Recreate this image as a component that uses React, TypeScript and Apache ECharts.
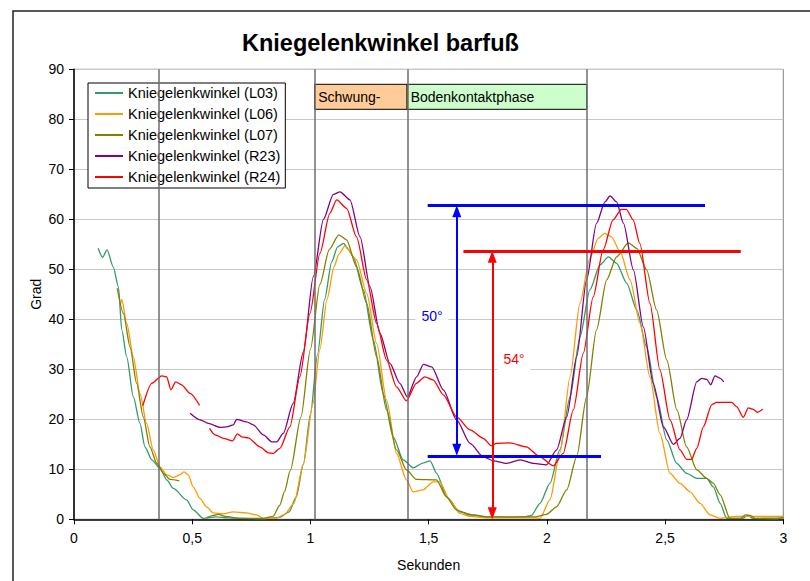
import React, { useEffect, useRef } from "react";
import * as echarts from "echarts";

const FONT = 'Arial, "Liberation Sans", sans-serif';

// Knee angle in degrees over time in seconds; "-" breaks a line where no value was recorded.
const kneeL03 = [
  [0.102, 54.2], [0.121, 52.4], [0.140, 53.9], [0.166, 50.5], [0.188, 46.5], [0.202, 37.9],
  [0.223, 32.5], [0.251, 24.5], [0.279, 19.2], [0.300, 14.5], [0.329, 11.9], [0.364, 10.2],
  [0.392, 7.9], [0.420, 6.2], [0.476, 3.9], [0.504, 1.9], [0.546, 0.2], [0.60, 0.5],
  [0.65, 0.3], [0.72, 0.2], [0.80, 0.1], [0.87, 0.4], [0.91, 1.5], [0.94, 4.5],
  [0.97, 11.0], [1.0, 21.0], [1.03, 33.0], [1.06, 44.0], [1.09, 51.5], [1.115, 54.5],
  [1.14, 55.2], [1.16, 54.0], [1.181, 52.5], [1.224, 45.9], [1.266, 35.9], [1.308, 25.2],
  [1.350, 16.5], [1.392, 11.9], [1.435, 10.3], [1.478, 11.3], [1.506, 11.7], [1.534, 9.2],
  [1.576, 4.5], [1.632, 1.5], [1.688, 0.9], [1.75, 0.5], [1.85, 0.4], [1.905, 0.5],
  [1.935, 0.8], [1.971, 3.2], [2.013, 7.2], [2.055, 13.9], [2.098, 24.5], [2.140, 36.5],
  [2.182, 45.9], [2.225, 50.9], [2.260, 52.5], [2.295, 51.2], [2.338, 47.2], [2.380, 41.9],
  [2.422, 34.5], [2.464, 24.5], [2.507, 15.9], [2.549, 11.2], [2.591, 9.2], [2.634, 8.2],
  [2.676, 8.2], [2.704, 6.5], [2.733, 3.2], [2.760, 0.2], [2.83, 0.2], [2.85, 0.8],
  [2.87, 0.2], [2.97, 0.1], [3.0, 0.4],
];

const kneeL06 = [
  [0.197, 43.0], [0.202, 44.0], [0.223, 39.2], [0.251, 32.5], [0.279, 25.2], [0.307, 19.2],
  [0.335, 13.9], [0.364, 10.5], [0.392, 8.9], [0.420, 8.4], [0.448, 8.9], [0.465, 9.5],
  [0.483, 8.9], [0.504, 6.5], [0.532, 4.2], [0.561, 2.5], [0.589, 1.3], [0.631, 1.1],
  [0.673, 1.5], [0.729, 1.3], [0.772, 0.9], [0.80, 0.2], [0.856, 0.2], [0.89, 1.0],
  [0.93, 3.2], [0.97, 11.0], [1.01, 23.0], [1.04, 34.0], [1.07, 44.0], [1.10, 50.5],
  [1.12, 53.0], [1.146, 54.7], [1.195, 51.9], [1.238, 45.2], [1.280, 35.2], [1.322, 23.9],
  [1.364, 13.2], [1.406, 7.9], [1.434, 5.5], [1.477, 5.9], [1.519, 7.5], [1.547, 7.5],
  [1.589, 3.9], [1.631, 1.2], [1.675, 0.6], [1.75, 0.3], [1.95, 0.3], [1.971, 0.2],
  [2.013, 3.9], [2.055, 13.2], [2.098, 28.5], [2.140, 43.2], [2.182, 52.2], [2.217, 56.2],
  [2.245, 57.2], [2.273, 56.5], [2.310, 53.5], [2.352, 47.9], [2.394, 39.2], [2.436, 28.5],
  [2.478, 17.2], [2.521, 9.2], [2.563, 7.2], [2.606, 5.5], [2.648, 3.2], [2.690, 0.9],
  [2.733, 0.2], [2.76, 0.4], [2.80, 0.6], [3.0, 0.6],
];

const kneeL07 = [
  [0.183, 46.2], [0.209, 41.2], [0.237, 34.5], [0.265, 27.2], [0.293, 20.5], [0.321, 14.5],
  [0.350, 11.2], [0.378, 9.2], [0.406, 8.0], [0.445, 7.7], [0.50, "-"],
  [0.56, 0.3], [0.59, 0.8], [0.61, 1.0], [0.64, 0.6], [0.70, 0.2], [0.80, 0.2],
  [0.842, 0.6], [0.87, 2.8], [0.89, 5.5], [0.915, 9.8], [0.96, 20.5], [1.0, 34.0],
  [1.04, 47.0], [1.08, 54.0], [1.12, 56.9], [1.153, 55.9], [1.195, 50.5], [1.238, 43.2],
  [1.280, 32.5], [1.322, 21.9], [1.364, 13.9], [1.406, 9.9], [1.448, 8.0], [1.533, 7.9],
  [1.575, 4.5], [1.617, 1.9], [1.674, 0.9], [1.75, 0.5], [1.95, 0.5], [1.999, 1.0],
  [2.041, 2.5], [2.084, 5.9], [2.126, 12.5], [2.168, 24.5], [2.210, 37.9], [2.253, 47.9],
  [2.295, 52.5], [2.345, 55.3], [2.380, 54.2], [2.422, 49.9], [2.464, 41.9], [2.507, 31.9],
  [2.550, 21.9], [2.591, 14.5], [2.634, 9.9], [2.676, 8.2], [2.704, 7.2], [2.733, 4.9],
  [2.774, 0.2], [2.82, 0.2], [2.84, 0.9], [2.86, 0.8], [2.88, 0.2], [3.0, 0.3],
];

const kneeR23 = [
  [0.491, 21.2], [0.533, 19.9], [0.568, 19.2], [0.618, 18.4], [0.646, 18.5], [0.674, 18.9],
  [0.688, 20.0], [0.730, 19.5], [0.758, 18.9], [0.801, 16.9], [0.836, 15.5], [0.857, 15.5],
  [0.885, 17.2], [0.927, 23.2], [0.970, 33.5], [1.012, 48.5], [1.055, 60.0], [1.097, 65.0],
  [1.125, 65.5], [1.167, 63.9], [1.210, 56.5], [1.252, 46.5], [1.294, 37.2], [1.336, 31.2],
  [1.378, 27.2], [1.410, 24.5], [1.449, 28.5], [1.478, 31.0], [1.513, 30.5], [1.562, 25.9],
  [1.618, 19.9], [1.675, 15.2], [1.731, 12.5], [1.773, 11.7], [1.830, 11.2], [1.887, 11.9],
  [1.943, 11.2], [1.999, 10.9], [2.041, 13.9], [2.084, 20.5], [2.126, 32.5], [2.168, 47.9],
  [2.210, 59.2], [2.246, 63.5], [2.267, 64.7], [2.295, 63.5], [2.324, 59.2], [2.366, 49.9],
  [2.408, 38.5], [2.450, 27.2], [2.493, 18.5], [2.535, 15.0], [2.563, 16.2], [2.591, 19.9],
  [2.634, 27.5], [2.655, 28.2], [2.676, 28.0], [2.693, 26.9], [2.711, 28.7], [2.733, 28.2],
  [2.748, 27.5],
];

const kneeR24 = [
  [0.291, 22.7], [0.329, 27.2], [0.371, 28.7], [0.392, 28.5], [0.410, 25.9], [0.430, 27.5],
  [0.455, 26.9], [0.491, 25.2], [0.531, 22.8], [0.55, "-"],
  [0.573, 18.2], [0.597, 16.9], [0.632, 16.2], [0.671, 15.7], [0.691, 17.1], [0.709, 16.5],
  [0.737, 16.3], [0.786, 14.5], [0.822, 13.3], [0.843, 13.2], [0.871, 14.2], [0.913, 18.5],
  [0.955, 28.5], [0.998, 41.2], [1.040, 53.2], [1.082, 61.2], [1.111, 63.9], [1.153, 62.2],
  [1.195, 56.5], [1.238, 47.9], [1.280, 39.2], [1.322, 31.9], [1.364, 26.5], [1.406, 23.7],
  [1.448, 27.2], [1.484, 28.5], [1.519, 27.9], [1.562, 24.9], [1.618, 20.5], [1.675, 17.9],
  [1.731, 16.2], [1.766, 14.7], [1.787, 15.2], [1.843, 15.3], [1.913, 14.5], [1.970, 12.5],
  [2.027, 10.7], [2.069, 13.2], [2.112, 21.9], [2.154, 33.2], [2.196, 44.5], [2.238, 53.9],
  [2.280, 59.9], [2.315, 62.0], [2.336, 62.0], [2.365, 59.9], [2.393, 55.2], [2.436, 43.2],
  [2.478, 29.9], [2.521, 19.9], [2.563, 13.9], [2.591, 12.0], [2.612, 12.0], [2.634, 14.2],
  [2.662, 18.5], [2.697, 22.9], [2.718, 23.4], [2.782, 23.4], [2.803, 22.5], [2.831, 20.4],
  [2.852, 22.3], [2.873, 22.0], [2.890, 21.4], [2.913, 22.0],
];

const seriesNames = [
  "Kniegelenkwinkel (L03)",
  "Kniegelenkwinkel (L06)",
  "Kniegelenkwinkel (L07)",
  "Kniegelenkwinkel (R23)",
  "Kniegelenkwinkel (R24)",
];
const seriesColors = ["#339966", "#FF9900", "#808000", "#800080", "#FF0000"];
const seriesData = [kneeL03, kneeL06, kneeL07, kneeR23, kneeR24];

// Gait phase markers (seconds) and the phase labels between them
const phaseBoundaries = [0.361, 1.018, 1.409, 2.169];
const phaseLabels = ["Schwung-", "Bodenkontaktphase"];
const phaseBand = [82, 87];

// Range of motion brackets: [x start, x end] for each reference line, arrow x, levels
const blueLevels = { top: 62.8, bottom: 12.7 };
const blueTopSpan = [1.496, 2.669];
const blueBottomSpan = [1.496, 2.229];
const blueArrowX = 1.619;
const blueLabelAt = [1.514, 40.6];

const redLevels = { top: 53.7, bottom: 0 };
const redTopSpan = [1.647, 2.82];
const redArrowX = 1.769;
const redLabelAt = [1.861, 32.0];

// arrow heads are centred on the line ends, so the shaft stops short by half a head
const arrowInset = 1.2;

const xTicks = { min: 0, max: 3, step: 0.5 };
const yTicks = { min: 0, max: 90, step: 10 };

function bracketSeries(color: string, levels: { top: number; bottom: number }, topSpan: number[], bottomSpan: number[] | null, arrowX: number, labelAt: number[]) {
  const lines: any[] = [
    [
      { coord: [topSpan[0], levels.top], lineStyle: { width: 3, color } },
      { coord: [topSpan[1], levels.top] },
    ],
  ];
  if (bottomSpan) {
    lines.push([
      { coord: [bottomSpan[0], levels.bottom], lineStyle: { width: 3, color } },
      { coord: [bottomSpan[1], levels.bottom] },
    ]);
  }
  lines.push([
    { coord: [arrowX, levels.bottom + arrowInset], symbol: "triangle", symbolSize: [9, 12], lineStyle: { width: 2, color } },
    { coord: [arrowX, levels.top - arrowInset], symbol: "triangle", symbolSize: [9, 12] },
  ]);
  return {
    type: "line",
    name: color,
    data: [],
    silent: true,
    markLine: {
      silent: true,
      symbol: "none",
      label: { show: false },
      emphasis: { disabled: true },
      lineStyle: { color, type: "solid" },
      data: lines,
    },
    markPoint: {
      silent: true,
      symbol: "rect",
      symbolSize: 1,
      itemStyle: { color: "rgba(0,0,0,0)" },
      label: {
        show: true,
        position: "inside",
        color,
        fontSize: 14,
        fontFamily: FONT,
        backgroundColor: "#ffffff",
        padding: [5, 6],
        formatter: `${Math.round(levels.top - levels.bottom)}°`,
      },
      data: [{ coord: labelAt }],
    },
    z: 5,
  };
}

export default function App() {
  const ref = useRef<HTMLDivElement>(null);

  useEffect(() => {
    if (!ref.current) return;
    const chart = echarts.init(ref.current, null, { renderer: "svg" });

    const curves = seriesNames.map((name, i) => ({
      type: "line",
      name,
      data: seriesData[i],
      showSymbol: false,
      symbol: "none",
      smooth: 0.25,
      smoothMonotone: "x",
      connectNulls: false,
      lineStyle: { color: seriesColors[i], width: 1.3 },
      itemStyle: { color: seriesColors[i] },
      z: 3,
    }));

    const phaseSeries = {
      type: "line",
      name: "phases",
      data: [],
      silent: true,
      markArea: {
        silent: true,
        label: { show: true, position: "insideLeft", distance: 4, color: "#000", fontSize: 14, fontFamily: FONT },
        itemStyle: { borderColor: "#000", borderWidth: 1 },
        data: [
          [
            { name: phaseLabels[0], xAxis: phaseBoundaries[1], yAxis: phaseBand[0], itemStyle: { color: "#FFCC99", borderColor: "#000", borderWidth: 1 } },
            { xAxis: phaseBoundaries[2], yAxis: phaseBand[1] },
          ],
          [
            { name: phaseLabels[1], xAxis: phaseBoundaries[2], yAxis: phaseBand[0], itemStyle: { color: "#CCFFCC", borderColor: "#000", borderWidth: 1 } },
            { xAxis: phaseBoundaries[3], yAxis: phaseBand[1] },
          ],
        ],
      },
      markLine: {
        silent: true,
        symbol: "none",
        label: { show: false },
        emphasis: { disabled: true },
        lineStyle: { color: "#6e6e6e", width: 1.5, type: "solid" },
        data: phaseBoundaries.map((x) => ({ xAxis: x })),
      },
      z: 4,
    };

    chart.setOption({
      animation: false,
      backgroundColor: "#ffffff",
      textStyle: { fontFamily: FONT },
      title: {
        text: "Kniegelenkwinkel barfuß",
        left: 237,
        top: 26,
        textStyle: { fontFamily: FONT, fontSize: 23.5, fontWeight: "bold", color: "#000" },
      },
      legend: {
        data: seriesNames,
        orient: "vertical",
        left: 88,
        top: 83,
        icon: "rect",
        itemWidth: 28,
        itemHeight: 2,
        itemGap: 5,
        padding: [2, 5, 3, 7],
        backgroundColor: "#ffffff",
        borderColor: "#000",
        borderWidth: 1,
        borderRadius: 0,
        selectedMode: false,
        textStyle: { fontFamily: FONT, fontSize: 14.5, color: "#000", lineHeight: 16 },
      },
      grid: {
        left: 74,
        top: 69.3,
        right: 26.7,
        bottom: 61.7,
        show: true,
        borderColor: "#808080",
        borderWidth: 1,
        backgroundColor: "#ffffff",
      },
      xAxis: {
        type: "value",
        min: xTicks.min,
        max: xTicks.max,
        interval: xTicks.step,
        name: "Sekunden",
        nameLocation: "middle",
        nameGap: 39,
        nameMoveOverlap: false,
        nameTextStyle: { fontFamily: FONT, fontSize: 14, color: "#000" },
        axisLine: { show: true, onZero: false, lineStyle: { color: "#000", width: 1.5 } },
        axisTick: { show: true, inside: false, length: 5, lineStyle: { color: "#000" } },
        axisLabel: {
          margin: 12,
          fontFamily: FONT,
          fontSize: 14,
          color: "#000",
          formatter: (v: number) => String(v).replace(".", ","),
        },
        splitLine: { show: false },
      },
      yAxis: {
        type: "value",
        min: yTicks.min,
        max: yTicks.max,
        interval: yTicks.step,
        name: "Grad",
        nameLocation: "middle",
        nameRotate: 90,
        nameGap: 31,
        nameMoveOverlap: false,
        nameTextStyle: { fontFamily: FONT, fontSize: 14, color: "#000" },
        axisLine: { show: true, onZero: false, lineStyle: { color: "#000", width: 1.5 } },
        axisTick: { show: true, inside: false, length: 5, lineStyle: { color: "#000" } },
        axisLabel: { margin: 10, fontFamily: FONT, fontSize: 14, color: "#000" },
        splitLine: { show: true, lineStyle: { color: "#c8c8c8", width: 1 } },
      },
      graphic: [
        {
          type: "rect",
          silent: true,
          shape: { x: 13, y: 11, width: 820, height: 620 },
          style: { fill: "none", stroke: "#222", lineWidth: 1.5 },
          z: 100,
        },
      ],
      series: [
        phaseSeries,
        ...curves,
        bracketSeries("#0000FF", blueLevels, blueTopSpan, blueBottomSpan, blueArrowX, blueLabelAt),
        bracketSeries("#FF0000", redLevels, redTopSpan, null, redArrowX, redLabelAt),
      ],
    });

    return () => chart.dispose();
  }, []);

  return (
    <div
      ref={ref}
      style={{ position: "fixed", left: 0, top: 0, width: 810, height: 581, background: "#fff" }}
    />
  );
}
